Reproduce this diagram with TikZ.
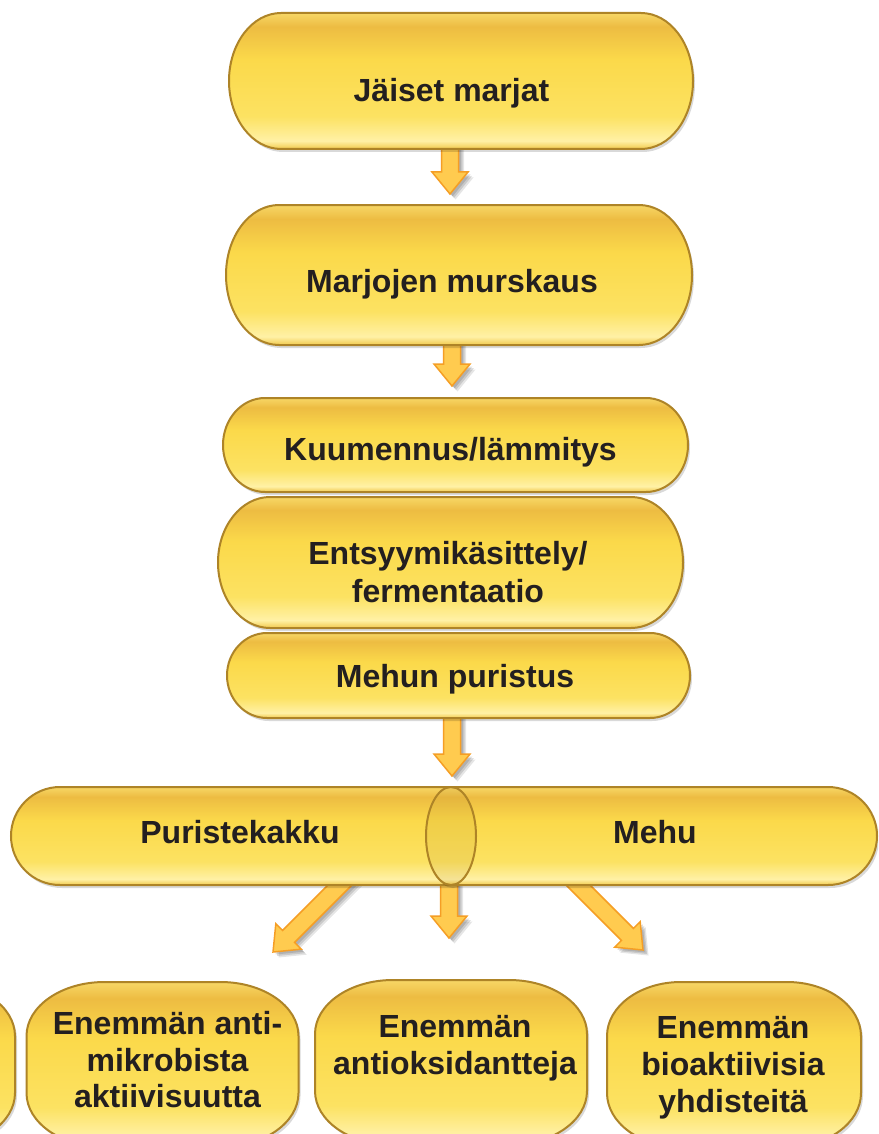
\documentclass[tikz,border=0pt]{standalone}
\usepackage{fontspec}
\setmainfont{Liberation Sans}
\usetikzlibrary{calc,shadows}
\definecolor{txtc}{HTML}{231F20}
\definecolor{pA}{HTML}{F1C94C}
\definecolor{pB}{HTML}{FFF1A6}
\definecolor{pC}{HTML}{FCE262}
\definecolor{pD}{HTML}{FBD94A}
\definecolor{pE}{HTML}{EDBC42}
\definecolor{pF}{HTML}{F7D766}
\definecolor{pBorder}{HTML}{AE8427}
\definecolor{arrFill}{HTML}{FFCB4F}
\definecolor{arrDraw}{HTML}{F59E25}
\pgfdeclareverticalshading{pillshade}{100bp}{color(0bp)=(pA); color(25bp)=(pA); color(28bp)=(pB); color(37bp)=(pC); color(58bp)=(pD); color(70bp)=(pE); color(75bp)=(pF); color(100bp)=(pF)}
\pgfdeclarelayer{back}
\pgfdeclarelayer{bg}
\pgfsetlayers{back,bg,main}
\tikzset{
  pill/.style={draw=pBorder, line width=2pt, shade, shading=pillshade,
    drop shadow={shadow xshift=2pt, shadow yshift=-3pt, opacity=0.15, fill=black},
    inner sep=0pt},
  anchorbox/.style={inner sep=0pt, draw=none, fill=none},
  lbl/.style={text=txtc, font=\bfseries\fontsize{32}{37}\selectfont, inner sep=0pt, align=center},
  blockarr/.style={draw=arrDraw, fill=arrFill, line width=1.5pt, line join=miter,
    drop shadow={shadow xshift=2.5pt, shadow yshift=-2.5pt, opacity=0.12, fill=black},
    drop shadow={shadow xshift=4pt, shadow yshift=-4pt, opacity=0.12, fill=black},
    drop shadow={shadow xshift=5.5pt, shadow yshift=-5.5pt, opacity=0.10, fill=black},
    to path={
      ($(\tikztostart)!8.5pt!90:(\tikztotarget)$)
      -- ($(\tikztotarget)!23.585pt!-21.12:(\tikztostart)$)
      -- ($(\tikztotarget)!28.43pt!-39.29:(\tikztostart)$)
      -- (\tikztotarget)
      -- ($(\tikztotarget)!28.43pt!39.29:(\tikztostart)$)
      -- ($(\tikztotarget)!23.585pt!21.12:(\tikztostart)$)
      -- ($(\tikztostart)!8.5pt!-90:(\tikztotarget)$)
      -- cycle}},
}
% pill with elliptical ends: cx, cy, w, h, rx
\newcommand\elPill[5]{%
  \path[pill] ({#1-#3/2+#5},{#2-#4/2}) -- ({#1+#3/2-#5},{#2-#4/2})
    arc[start angle=-90, end angle=90, x radius=#5, y radius=#4/2]
    -- ({#1-#3/2+#5},{#2+#4/2})
    arc[start angle=90, end angle=270, x radius=#5, y radius=#4/2] -- cycle;}
% rounded box with elliptical corners: cx, cy, w, h, rx, ry
\newcommand\elRound[6]{%
  \path[pill] ({#1-#3/2+#5},{#2-#4/2}) -- ({#1+#3/2-#5},{#2-#4/2})
    arc[start angle=-90, end angle=0, x radius=#5, y radius=#6]
    -- ({#1+#3/2},{#2+#4/2-#6})
    arc[start angle=0, end angle=90, x radius=#5, y radius=#6]
    -- ({#1-#3/2+#5},{#2+#4/2})
    arc[start angle=90, end angle=180, x radius=#5, y radius=#6]
    -- ({#1-#3/2},{#2-#4/2+#6})
    arc[start angle=180, end angle=270, x radius=#5, y radius=#6] -- cycle;}
\begin{document}
\begin{tikzpicture}[x=1pt,y=-1pt]
\useasboundingbox (0,0) rectangle (878,1134);
\begin{pgfonlayer}{back}
\fill[white] (0,0) rectangle (878,1134);
\end{pgfonlayer}
\clip (0,0) rectangle (878,1134);

% process boxes
\elPill{461}{81}{464}{136}{52}
\elPill{459}{275}{466}{140}{53}
\elPill{455.5}{445}{465}{94}{42}
\elPill{450.5}{562.5}{465}{131}{52}
\elPill{458.5}{675.5}{463}{85}{40}
\node[anchorbox, minimum width=464, minimum height=136] (b1) at (461,81) {};
\node[anchorbox, minimum width=466, minimum height=140] (b2) at (459,275) {};
\node[anchorbox, minimum width=465, minimum height=94] (b3) at (455.5,445) {};
\node[anchorbox, minimum width=465, minimum height=131] (b4) at (450.5,562.5) {};
\node[anchorbox, minimum width=463, minimum height=85] (b5) at (458.5,675.5) {};

\node[lbl, anchor=base] (t1) at (451.5,102) {Jäiset marjat};
\node[lbl, anchor=base] (t2) at (452,292) {Marjojen murskaus};
\node[lbl, anchor=base] (t3) at (450.5,460) {Kuumennus/lämmitys};
\node[lbl, font=\bfseries\fontsize{32}{38}\selectfont] (t4) at (448,572.3) {Entsyymikäsittely/\\fermentaatio};
\node[lbl, anchor=base] (t5) at (455,687) {Mehun puristus};

% split boxes
\path[pill] (451,787) -- (60,787) arc[start angle=-90, end angle=-270, x radius=49, y radius=49]
  -- (451,885) arc[start angle=90, end angle=-90, x radius=25, y radius=49] -- cycle;
\path[pill] (451,787) -- (828,787) arc[start angle=-90, end angle=90, x radius=49, y radius=49]
  -- (451,885) arc[start angle=90, end angle=270, x radius=25, y radius=49] -- cycle;
\fill[pBorder, opacity=0.12] (451,836) ellipse [x radius=25, y radius=49];
\draw[pBorder, line width=2pt] (451,885) arc[start angle=90, end angle=-90, x radius=25, y radius=49];
\node[lbl, anchor=base] (pk) at (240,843) {Puristekakku};
\node[lbl, anchor=base] (mh) at (655,843) {Mehu};

% result circles
\elRound{-121}{1064.5}{272}{165}{78}{54}
\elRound{162.5}{1064.5}{272}{165}{78}{54}
\elRound{451}{1062.5}{272}{165}{78}{54}
\elRound{734}{1064.5}{254}{165}{74}{54}
\node[lbl, font=\bfseries\fontsize{32}{36.5}\selectfont] (e2) at (167.5,1059.8) {Enemmän anti-\\mikrobista\\aktiivisuutta};
\node[lbl] (e3) at (455,1048.2) {Enemmän\\antioksidantteja};
\node[lbl] (e4) at (733,1067.7) {Enemmän\\bioaktiivisia\\yhdisteitä};

% arrows
\coordinate (a1t) at (450,194);
\coordinate (a2t) at (452,386);
\coordinate (a3t) at (452,776);
\coordinate (a4s) at (383,842);
\coordinate (a4t) at (273,952);
\coordinate (a5s) at (449,872);
\coordinate (a5t) at (449,938);
\coordinate (a6s) at (535,842);
\coordinate (a6t) at (643,950);
\begin{pgfonlayer}{bg}
\draw[blockarr] ($(b1.south -| a1t)+(0,-10)$) to (a1t);
\draw[blockarr] ($(b2.south -| a2t)+(0,-10)$) to (a2t);
\draw[blockarr] ($(b5.south -| a3t)+(0,-10)$) to (a3t);
\draw[blockarr] (a4s) to (a4t);
\draw[blockarr] (a5s) to (a5t);
\draw[blockarr] (a6s) to (a6t);
\end{pgfonlayer}
\end{tikzpicture}
\end{document}
